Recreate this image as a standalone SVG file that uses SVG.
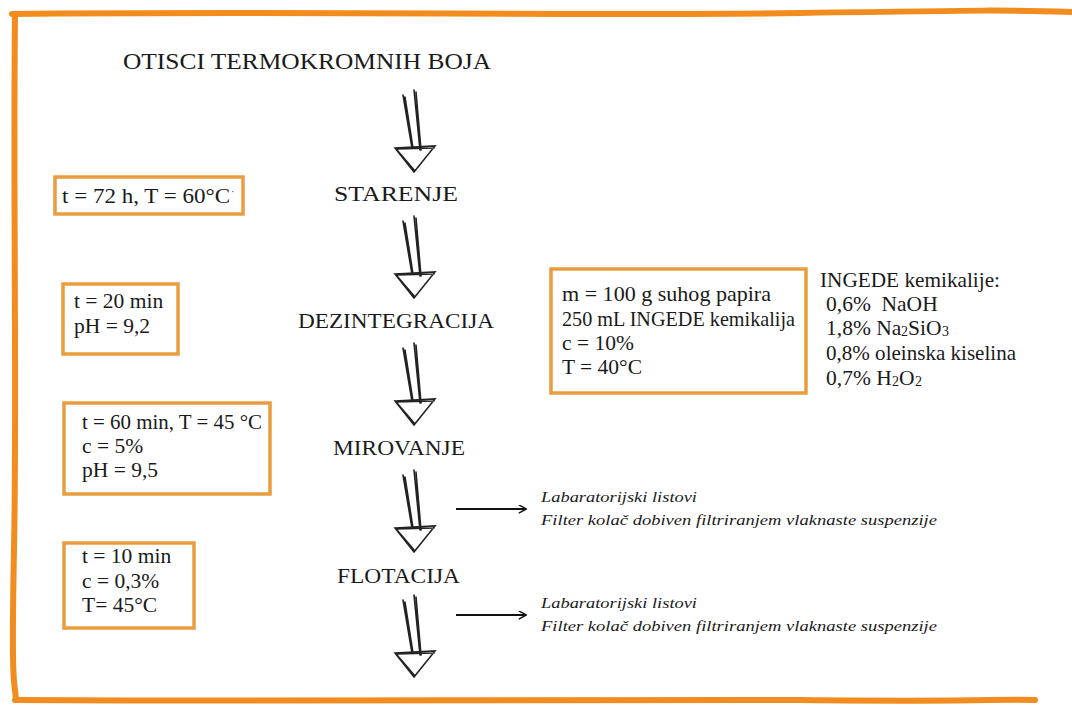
<svg xmlns="http://www.w3.org/2000/svg" width="1072" height="706" viewBox="0 0 1072 706">
<defs>
<style>
.box{fill:#fff;stroke:#E99D3E;stroke-width:3.5}
.sk{stroke:#222;stroke-width:1.6;fill:none;stroke-linecap:round}
.frame{stroke:#F28C1E;fill:none;stroke-linecap:round}
</style>
<g id="arrowshape">
<path class="sk" d="M-11,-77 L-2,-24 M-9,-75 L-1,-24 M0,-82 L6,-22 M2,-80 L7,-22"/>
<path class="sk" d="M-19,-24 L21,-26 L0,0 Z M-18,-23 L20,-24 M-17,-22 L1,-1"/>
</g>
<marker id="ah" viewBox="0 0 10 10" refX="9" refY="5" markerWidth="9" markerHeight="9" markerUnits="userSpaceOnUse" orient="auto">
<path d="M1,0.5 L9.5,5 L1,9.5" fill="none" stroke="#111" stroke-width="1.6"/>
</marker>
</defs>
<rect width="1072" height="706" fill="#fff"/>
<g id="frame">
<path class="frame" stroke-width="6" d="M12,14 C300,11 600,16 800,13 S1000,10 1072,12"/>
<path class="frame" stroke-width="6" d="M15,14 C13,200 17,400 14,550 S15,680 16,700"/>
<path class="frame" stroke-width="6" d="M15,700 C300,702 600,698 800,700 S980,699 1035,700"/>
</g>
<g fill="#1a1a1a">
<g id="title"><text font-family="Liberation Serif" x="123" y="69" font-size="23" textLength="368" lengthAdjust="spacingAndGlyphs">OTISCI TERMOKROMNIH BOJA</text></g>
<g id="starenje"><text font-family="Liberation Serif" font-size="21" x="334" y="201" textLength="124" lengthAdjust="spacingAndGlyphs">STARENJE</text></g>
<g id="dezintegracija"><text font-family="Liberation Serif" font-size="21" x="298" y="328" textLength="196" lengthAdjust="spacingAndGlyphs">DEZINTEGRACIJA</text></g>
<g id="mirovanje"><text font-family="Liberation Serif" font-size="21" x="333" y="455" textLength="132" lengthAdjust="spacingAndGlyphs">MIROVANJE</text></g>
<g id="flotacija"><text font-family="Liberation Serif" font-size="21" x="337" y="583" textLength="123" lengthAdjust="spacingAndGlyphs">FLOTACIJA</text></g>
<g id="box1"><rect class="box" x="55" y="177" width="188" height="37"/>
<text font-family="Liberation Serif" font-size="21.5" x="62" y="203" textLength="168" lengthAdjust="spacingAndGlyphs">t = 72 h, T = 60°C</text>
<text font-family="Liberation Serif" font-size="10" x="231" y="195">·</text></g>
<g id="box2"><rect class="box" x="63" y="284" width="115" height="70"/>
<text font-family="Liberation Serif" font-size="21.5" x="74" y="308">t = 20 min</text>
<text font-family="Liberation Serif" font-size="21.5" x="74" y="333">pH = 9,2</text></g>
<g id="box3"><rect class="box" x="64" y="403" width="206" height="91"/>
<text font-family="Liberation Serif" font-size="21.5" x="82" y="429" textLength="180" lengthAdjust="spacingAndGlyphs">t = 60 min, T = 45 °C</text>
<text font-family="Liberation Serif" font-size="21.5" x="82" y="453">c = 5%</text>
<text font-family="Liberation Serif" font-size="21.5" x="82" y="477">pH = 9,5</text></g>
<g id="box4"><rect class="box" x="64" y="543" width="130" height="85"/>
<text font-family="Liberation Serif" font-size="21.5" x="82" y="563">t = 10 min</text>
<text font-family="Liberation Serif" font-size="21.5" x="82" y="588">c = 0,3%</text>
<text font-family="Liberation Serif" font-size="21.5" x="82" y="612">T= 45°C</text></g>
<g id="box5"><rect class="box" x="551" y="269" width="255" height="124"/>
<text font-family="Liberation Serif" font-size="21.5" x="562" y="301" textLength="209" lengthAdjust="spacingAndGlyphs">m = 100 g suhog papira</text>
<text font-family="Liberation Serif" font-size="21.5" x="562" y="326" textLength="233" lengthAdjust="spacingAndGlyphs">250 mL INGEDE kemikalija</text>
<text font-family="Liberation Serif" font-size="21.5" x="562" y="350">c = 10%</text>
<text font-family="Liberation Serif" font-size="21.5" x="562" y="374">T = 40°C</text></g>
<g id="ingede">
<text font-family="Liberation Serif" font-size="21.5" x="820" y="287" textLength="180" lengthAdjust="spacingAndGlyphs">INGEDE kemikalije:</text>
<text font-family="Liberation Serif" font-size="21.5" x="826" y="311" xml:space="preserve">0,6%  NaOH</text>
<text font-family="Liberation Serif" font-size="21.5" x="826" y="335">1,8% Na</text>
<text font-family="Liberation Serif" font-size="14" x="901" y="336">2</text>
<text font-family="Liberation Serif" font-size="21.5" x="908" y="335">SiO</text>
<text font-family="Liberation Serif" font-size="14" x="942" y="336">3</text>
<text font-family="Liberation Serif" font-size="21.5" x="826" y="360" textLength="190" lengthAdjust="spacingAndGlyphs">0,8% oleinska kiselina</text>
<text font-family="Liberation Serif" font-size="21.5" x="826" y="385">0,7% H</text>
<text font-family="Liberation Serif" font-size="14" x="892" y="386">2</text>
<text font-family="Liberation Serif" font-size="21.5" x="899" y="385">O</text>
<text font-family="Liberation Serif" font-size="14" x="915" y="386">2</text>
</g>
<g id="out1">
<text font-family="Liberation Serif" font-size="15.5" font-style="italic" x="541" y="502" textLength="156" lengthAdjust="spacingAndGlyphs">Labaratorijski listovi</text>
<text font-family="Liberation Serif" font-size="15.5" font-style="italic" x="541" y="525" textLength="396" lengthAdjust="spacingAndGlyphs">Filter kolač dobiven filtriranjem vlaknaste suspenzije</text></g>
<g id="out2">
<text font-family="Liberation Serif" font-size="15.5" font-style="italic" x="541" y="608" textLength="156" lengthAdjust="spacingAndGlyphs">Labaratorijski listovi</text>
<text font-family="Liberation Serif" font-size="15.5" font-style="italic" x="541" y="631" textLength="396" lengthAdjust="spacingAndGlyphs">Filter kolač dobiven filtriranjem vlaknaste suspenzije</text></g>
</g>
<g id="connectors">
<use href="#arrowshape" transform="translate(414,172)"/>
<use href="#arrowshape" transform="translate(414,298)"/>
<use href="#arrowshape" transform="translate(414,425)"/>
<use href="#arrowshape" transform="translate(414,552)"/>
<use href="#arrowshape" transform="translate(414,677)"/>
<line x1="456" y1="509" x2="526" y2="509" stroke="#111" stroke-width="2.2" marker-end="url(#ah)"/>
<line x1="456" y1="615" x2="526" y2="615" stroke="#111" stroke-width="2.2" marker-end="url(#ah)"/>
</g>
</svg>
